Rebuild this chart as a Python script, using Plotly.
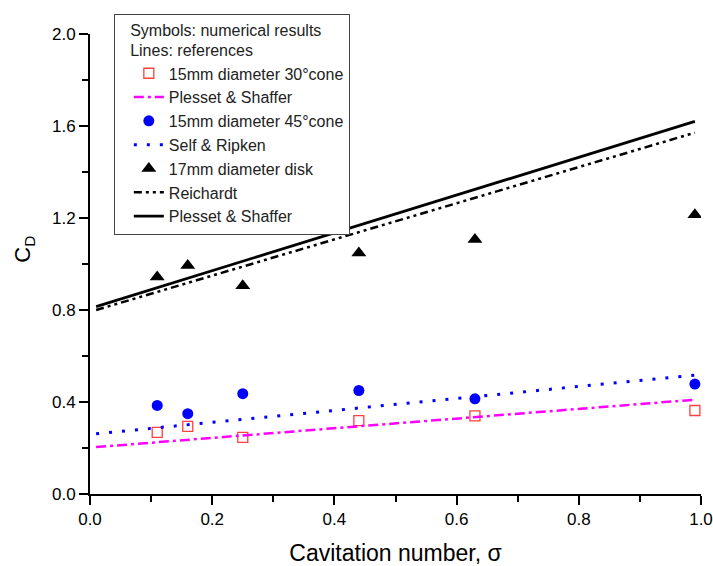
import plotly.graph_objects as go

# Cavitation number at which the numerical drag coefficients were computed
sigma_sim = [0.11, 0.16, 0.25, 0.44, 0.63, 0.99]

# Numerical drag coefficients
cd_cone30 = [0.268, 0.294, 0.246, 0.319, 0.340, 0.363]
cd_cone45 = [0.385, 0.349, 0.436, 0.450, 0.414, 0.478]
cd_disk17 = [0.943, 0.993, 0.905, 1.048, 1.106, 1.214]

# Reference correlations (straight lines, end points)
sigma_ref = [0.01, 0.99]
cd_ps_cone30 = [0.204, 0.410]
cd_sr_cone45 = [0.262, 0.517]
cd_reichardt = [0.800, 1.571]
cd_ps_disk = [0.815, 1.620]

FONT = "Arial, Liberation Sans, sans-serif"
NB = "\u00a0"

fig = go.Figure()

fig.add_trace(go.Scatter(
    x=sigma_sim, y=cd_cone30, mode="markers",
    name="15mm diameter 30°cone",
    marker=dict(symbol="square-open", size=10, color="#ff4040",
                line=dict(width=1.3, color="#ff4040")),
))
fig.add_trace(go.Scatter(
    x=sigma_ref, y=cd_ps_cone30, mode="lines",
    name="Plesset & Shaffer",
    line=dict(color="#ff00ff", width=2.5, dash="10px,4px,3px,4px"),
))
fig.add_trace(go.Scatter(
    x=sigma_sim, y=cd_cone45, mode="markers",
    name="15mm diameter 45°cone",
    marker=dict(symbol="circle", size=11, color="#0000ff"),
))
fig.add_trace(go.Scatter(
    x=sigma_ref, y=cd_sr_cone45, mode="lines",
    name="Self & Ripken",
    line=dict(color="#0000ff", width=3, dash="3px,10px"),
))
fig.add_trace(go.Scatter(
    x=sigma_sim, y=cd_disk17, mode="markers",
    name="17mm diameter disk",
    marker=dict(symbol="triangle-up", size=13, color="black"),
))
fig.add_trace(go.Scatter(
    x=sigma_ref, y=cd_reichardt, mode="lines",
    name="Reichardt",
    line=dict(color="black", width=2.5, dash="8px,4px,3px,4px,3px,4px"),
))
fig.add_trace(go.Scatter(
    x=sigma_ref, y=cd_ps_disk, mode="lines",
    name="Plesset & Shaffer",
    line=dict(color="black", width=2.8),
))

axis_common = dict(
    showgrid=False, zeroline=False, showline=True,
    linecolor="black", linewidth=2,
    ticks="outside", ticklen=9, tickwidth=1.5, tickcolor="black",
    tickfont=dict(family=FONT, size=17, color="black"),
    mirror=False,
)

fig.update_xaxes(
    range=[0, 1], dtick=0.2, tickformat=".1f",
    minor=dict(dtick=0.1, ticks="outside", ticklen=6, tickwidth=1.5, tickcolor="black"),
    title=dict(text="Cavitation number, σ", font=dict(family=FONT, size=23, color="black"), standoff=17),
    **axis_common,
)
fig.update_yaxes(
    range=[0, 2], dtick=0.4, tickformat=".1f",
    minor=dict(dtick=0.2, ticks="outside", ticklen=6, tickwidth=1.5, tickcolor="black"),
    **axis_common,
)

# y-axis label
fig.add_annotation(
    text="C<sub>D</sub>", textangle=-90, showarrow=False,
    xref="paper", yref="paper", x=-0.108, y=0.531,
    xanchor="center", yanchor="middle",
    font=dict(family=FONT, size=22, color="black"),
)

fig.update_layout(
    width=713, height=566,
    margin=dict(l=90, r=12, t=34, b=72, autoexpand=False),
    paper_bgcolor="white", plot_bgcolor="white",
    font=dict(family=FONT, color="black"),
    showlegend=True,
    legend=dict(
        x=0.039, y=1.044, xanchor="left", yanchor="top",
        bgcolor="white", bordercolor="#444", borderwidth=1,
        font=dict(family=FONT, size=16, color="#222"),
        title=dict(text=NB * 3 + "Symbols: numerical results<br>" + NB * 3 + "Lines: references",
                   font=dict(family=FONT, size=16, color="#222"), side="top"),
        tracegroupgap=0, itemwidth=30, indentation=14,
    ),
)

fig.write_html("out.html")
